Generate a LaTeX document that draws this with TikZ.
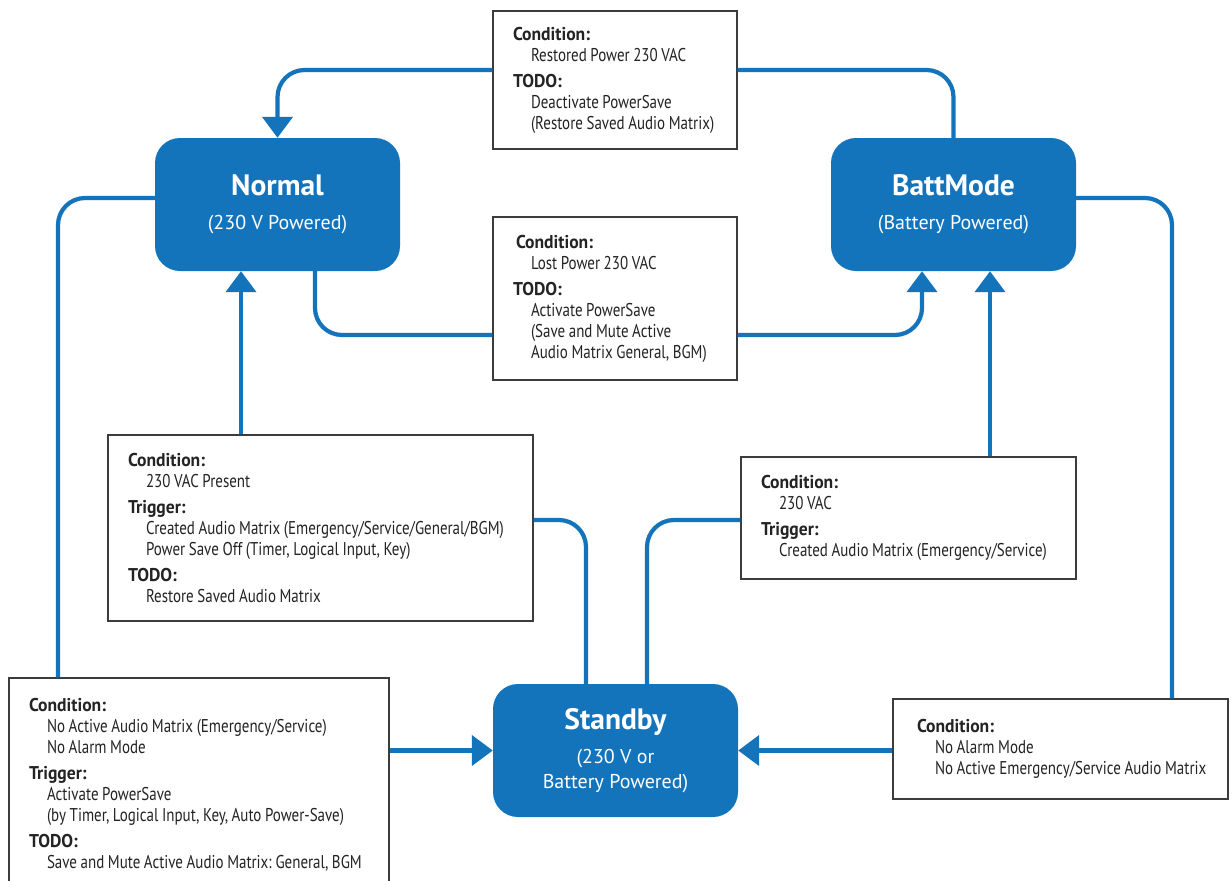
\documentclass[tikz,border=0pt]{standalone}
\usepackage{fontspec}
\setmainfont{PT Sans}
\newfontfamily\condfont{PT Sans}[UprightFeatures={FakeStretch=0.81}, BoldFeatures={FakeStretch=0.95}]
\usetikzlibrary{arrows.meta}
\definecolor{sblue}{RGB}{19,116,187}
\definecolor{sgray}{RGB}{60,60,60}
\definecolor{tgray}{RGB}{35,35,35}
\newcommand\hd[1]{\mbox{\textbf{#1}}}
\newcommand\itm[1]{\mbox{\spaceskip=3.6pt\relax\xspaceskip=3.8pt\relax\hspace*{18pt}#1}}
\begin{document}
\begin{tikzpicture}[x=1pt,y=-1pt,
 state/.style={fill=sblue, rounded corners=25pt, minimum width=245pt, minimum height=133pt, inner sep=0pt, text=white, align=center, font=\fontsize{20}{34}\selectfont},
 lbl/.style={draw=sgray, line width=1.4pt, fill=white, inner xsep=20pt, inner ysep=0pt, align=left, text=tgray, font=\condfont\fontsize{18.5}{21}\selectfont},
 conn/.style={draw=sblue, line width=4.2pt, rounded corners=27pt},
 tip/.style={-{Triangle[length=21pt,width=30pt]}}]
\useasboundingbox (0,0) rectangle (1232,881);
\fill[white] (0,0) rectangle (1232,881);

\node[state] (normal) at (277.5,204.5) {{\fontsize{29.5}{34}\selectfont\bfseries Normal}\\(230 V Powered)};
\node[state] (battmode) at (953.5,204.5) {{\fontsize{29.5}{34}\selectfont\bfseries BattMode}\\(Battery Powered)};
\node[state] (standby) at (615.5,750.5) {{\fontsize{29.5}{34}\selectfont\bfseries Standby}\\(230 V or\\[-9pt]Battery Powered)};

\node[lbl, minimum width=244pt, text width=204pt, minimum height=138pt] (b1) at (615,80)
 {\hd{Condition:}\\\itm{Restored Power 230 VAC}\\[5pt]\hd{TODO:}\\\itm{Deactivate PowerSave}\\\itm{(Restore Saved Audio Matrix)}};
\node[lbl, minimum width=244pt, text width=204pt, minimum height=163pt] (b2) at (615,298.5)
 {\mbox{\hspace*{3pt}\textbf{Condition:}}\\\itm{Lost Power 230 VAC}\\[5pt]\hd{TODO:}\\\itm{Activate PowerSave}\\\itm{(Save and Mute Active}\\\itm{Audio Matrix General, BGM)}};
\node[lbl, minimum width=425pt, text width=385pt, minimum height=186pt] (b3) at (320.5,528)
 {\hd{Condition:}\\\itm{230 VAC Present}\\[5pt]\hd{Trigger:}\\\itm{Created Audio Matrix (Emergency/Service/General/BGM)}\\\itm{Power Save Off (Timer, Logical Input, Key)}\\[5pt]\hd{TODO:}\\\itm{Restore Saved Audio Matrix}};
\node[lbl, minimum width=335pt, text width=295pt, minimum height=122pt] (b4) at (908.5,518)
 {\hd{Condition:}\\\itm{230 VAC}\\[5pt]\hd{Trigger:}\\\itm{Created Audio Matrix (Emergency/Service)}};
\node[lbl, minimum width=380pt, text width=340pt, minimum height=214pt] (b5) at (199,785)
 {\hd{Condition:}\\\itm{No Active Audio Matrix (Emergency/Service)}\\\itm{No Alarm Mode}\\[5pt]\hd{Trigger:}\\\itm{Activate PowerSave}\\\itm{(by Timer, Logical Input, Key, Auto Power-Save)}\\[5pt]\hd{TODO:}\\\itm{Save and Mute Active Audio Matrix: General, BGM}};
\node[lbl, inner xsep=24pt, minimum width=335pt, text width=287pt, minimum height=100pt] (b6) at (1060.5,749)
 {\hd{Condition:}\\\itm{No Alarm Mode}\\\itm{No Active Emergency/Service Audio Matrix}};

\coordinate (y70) at (0,70);
\coordinate (y198) at (0,198);
\coordinate (y335) at (0,335);
\coordinate (y520) at (0,520);
\coordinate (x58) at (58,0);
\coordinate (x241) at (241,0);
\coordinate (x315) at (315,0);
\coordinate (x586) at (586,0);
\coordinate (x647) at (647,0);
\coordinate (x922) at (922,0);
\coordinate (x990) at (990,0);
\coordinate (x1172) at (1172,0);

\draw[conn] (battmode.north) |- (b1.east |- y70);
\draw[conn,tip] (b1.west |- y70) -| (normal.north);
\draw[conn] (normal.south -| x315) |- (b2.west |- y335);
\draw[conn,tip] (b2.east |- y335) -| (battmode.south -| x922);
\draw[conn,tip] (b3.north -| x241) -- (normal.south -| x241);
\draw[conn] (standby.north -| x586) |- (b3.east |- y520);
\draw[conn,tip] (b4.north -| x990) -- (battmode.south -| x990);
\draw[conn] (standby.north -| x647) |- (b4.west |- y520);
\draw[conn] (normal.west |- y198) -| (b5.north -| x58);
\draw[conn,tip] (b5.east |- standby.west) -- (standby.west);
\draw[conn] (battmode.east |- y198) -| (b6.north -| x1172);
\draw[conn,tip] (b6.west |- standby.east) -- (standby.east);
\end{tikzpicture}
\end{document}
